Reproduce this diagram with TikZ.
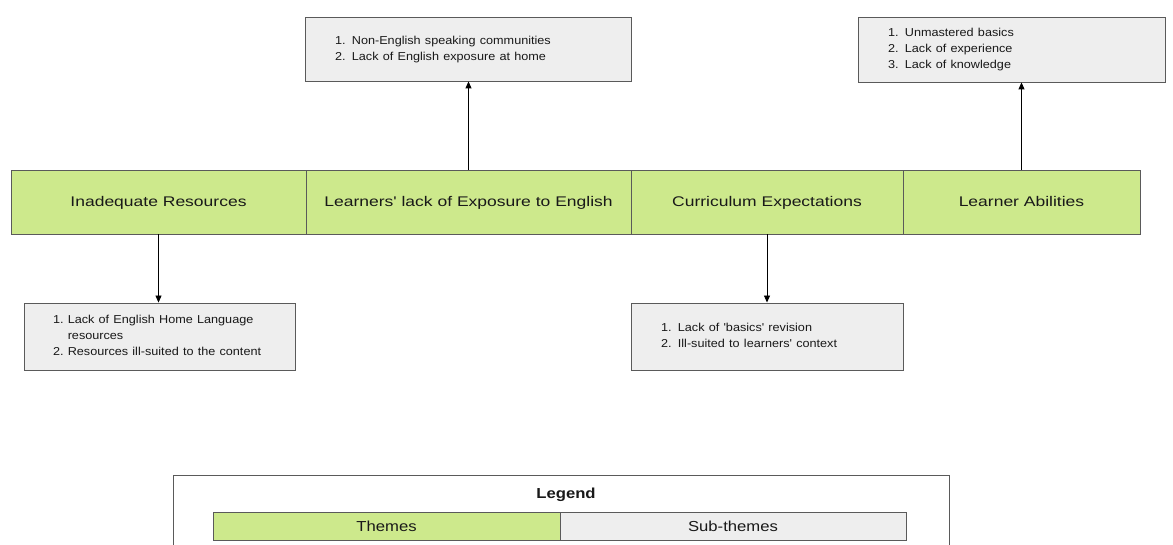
\documentclass[tikz,border=0pt]{standalone}
\usepackage{graphicx}
\usepackage{fontspec}
\setmainfont{Liberation Sans}
\usetikzlibrary{arrows.meta}
\definecolor{themegreen}{RGB}{205,233,140}
\definecolor{subgray}{RGB}{238,238,238}
\definecolor{edgegray}{RGB}{90,90,90}
\definecolor{txt}{RGB}{25,25,25}
\newcommand{\themetxt}[1]{\scalebox{1.25}[1]{#1}}
\newcommand{\subtxt}[1]{\scalebox{1.1}[1]{\begin{tabular}{@{}l@{}}#1\end{tabular}}}
\newcommand{\q}{\textquotesingle}
\begin{document}
\begin{tikzpicture}[x=1pt,y=-1pt,
  theme/.style={draw=edgegray,line width=0.9pt,fill=themegreen,text=txt,minimum height=64pt,inner sep=0pt,text height=12pt,text depth=2pt,font=\fontsize{14}{16}\selectfont},
  subbox/.style={draw=edgegray,line width=0.9pt,fill=subgray,text=txt,inner xsep=30pt,inner ysep=0pt,align=left,font=\fontsize{11.5}{16}\selectfont},
  conn/.style={line width=0.9pt,draw=black,-{Triangle[length=7pt,width=6pt]}}]
\clip (0,0) rectangle (1173,545);
\useasboundingbox (0,0) rectangle (1173,545);
\fill[white] (0,0) rectangle (1173,545);
% themes
\node[theme,minimum width=295pt] (A) at (158.5,202) {\themetxt{Inadequate Resources}};
\node[theme,minimum width=325pt] (B) at (468.5,202) {\themetxt{Learners\q{} lack of Exposure to English}};
\node[theme,minimum width=272pt] (C) at (767,202) {\themetxt{Curriculum Expectations}};
\node[theme,minimum width=237pt] (D) at (1021.5,202) {\themetxt{Learner Abilities}};
% sub-themes
\node[subbox,text width=266pt,minimum height=64pt] (SB) at (468,49) {\subtxt{1. Non-English speaking communities\\2. Lack of English exposure at home}};
\node[subbox,text width=247pt,minimum height=65pt] (SD) at (1011.5,49.5) {\subtxt{1. Unmastered basics\\2. Lack of experience\\3. Lack of knowledge}};
\node[subbox,text width=213pt,minimum height=67pt,inner xsep=29pt] (SA) at (159.5,336.5) {\scalebox{1.1}[1]{\begin{tabular}{@{}l@{\ }l@{}}1.&Lack of English Home Language\\&resources\\2.&Resources ill-suited to the content\end{tabular}}};
\node[subbox,text width=212pt,minimum height=67pt] (SC) at (767,336.5) {\subtxt{1. Lack of \q basics\q{} revision\\2. Ill-suited to learners\q{} context}};
% connectors
\draw[conn] (B.north) -- (B.north |- SB.south);
\draw[conn] (D.north) -- (D.north |- SD.south);
\draw[conn] (A.south) -- (A.south |- SA.north);
\draw[conn] (C.south) -- (C.south |- SC.north);
% legend
\node[draw=edgegray,line width=0.9pt,fill=white,minimum width=776pt,minimum height=90pt,anchor=north west] (L) at (173,475) {};
\node[text=txt,font=\fontsize{14.5}{16}\selectfont\bfseries] (LT) at (566,495) {\scalebox{1.15}[1]{Legend}};
\node[theme,minimum width=347pt,minimum height=28pt,font=\fontsize{14.5}{16}\selectfont] (LG) at (386.5,526) {\scalebox{1.15}[1]{Themes}};
\node[theme,fill=subgray,minimum width=346pt,minimum height=28pt,font=\fontsize{14.5}{16}\selectfont] (LS) at (733,526) {\scalebox{1.15}[1]{Sub-themes}};
\end{tikzpicture}
\end{document}
